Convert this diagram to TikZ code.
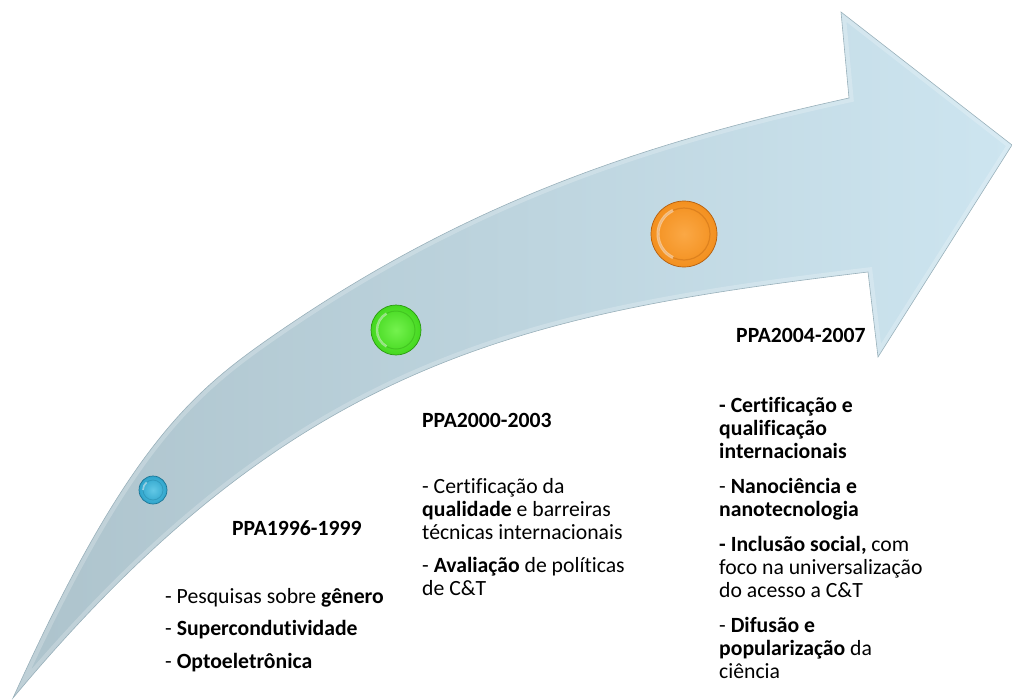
\documentclass[tikz,border=0pt]{standalone}
\usepackage{fontspec}
\setmainfont{Carlito}[Ligatures={TeX,NoCommon}]
\definecolor{arrL}{HTML}{ADC3CC}
\definecolor{arrM}{HTML}{BED5DF}
\definecolor{arrR}{HTML}{CDE5F0}
\definecolor{arrEdge}{HTML}{9AB1BB}
\definecolor{blueL}{HTML}{62C8E6}
\definecolor{blueB}{HTML}{2EA4CB}
\definecolor{blueD}{HTML}{1B7595}
\definecolor{greenL}{HTML}{74F24E}
\definecolor{greenB}{HTML}{44D81F}
\definecolor{greenD}{HTML}{2A9A10}
\definecolor{orangeL}{HTML}{FBA845}
\definecolor{orangeB}{HTML}{F3901F}
\definecolor{orangeD}{HTML}{B45E0E}
\tikzset{
  ppahead/.style={anchor=base west, inner sep=0pt, font=\bfseries\fontsize{21.7}{23}\selectfont},
  ppabody/.style={anchor=north west, inner sep=0pt, align=left, font=\fontsize{21.7}{23}\selectfont},
  orb/.style n args={3}{circle, inner sep=0pt, shading=radial, inner color=#1, outer color=#2, draw=#3, line width=0.7pt},
}
\newcommand\ppaarrowpath{(13,698) .. controls (123,455) and (187,396) .. (267,340) .. controls (467,200) and (649,142) .. (849,98) -- (841,12) -- (1012,145) -- (878,357) -- (868,272) .. controls (518,314) and (293,362) .. (13,698) -- cycle}
\begin{document}
\begin{tikzpicture}[x=1pt,y=-1pt]
\useasboundingbox (0,0) rectangle (1012,699);
% arrow
\shade[left color=arrL, middle color=arrM, right color=arrR] \ppaarrowpath;
\begin{scope}
  \clip \ppaarrowpath;
  \draw[white, opacity=0.22, line width=9pt, line join=miter] \ppaarrowpath;
\end{scope}
\draw[arrEdge, line width=0.6pt, line join=miter] \ppaarrowpath;
% orbs
\node[orb={blueL}{blueB}{blueD}, minimum size=28pt] (b1) at (153,490) {};
\draw[blueD, opacity=0.35, line width=0.8pt] (b1.center) circle[radius=10];
\draw[white, opacity=0.5, line width=1.6pt] ([shift={(-10,0)}]b1.center) arc[start angle=180, end angle=230, radius=10];
\node[orb={greenL}{greenB}{greenD}, minimum size=50pt] (b2) at (396,330) {};
\draw[greenD, opacity=0.35, line width=1pt] (b2.center) circle[radius=19];
\draw[white, opacity=0.45, line width=2.4pt] ([shift={(-19,0)}]b2.center) arc[start angle=180, end angle=240, radius=19];
\draw[white, opacity=0.45, line width=2.4pt] ([shift={(-19,0)}]b2.center) arc[start angle=180, end angle=120, radius=19];
\node[orb={orangeL}{orangeB}{orangeD}, minimum size=66pt] (b3) at (684,234) {};
\draw[orangeD, opacity=0.35, line width=1.2pt] (b3.center) circle[radius=26];
\draw[white, opacity=0.45, line width=3pt] ([shift={(-26,0)}]b3.center) arc[start angle=180, end angle=245, radius=26];
\draw[white, opacity=0.45, line width=3pt] ([shift={(-26,0)}]b3.center) arc[start angle=180, end angle=115, radius=26];
% texts
\node[ppahead] (h1) at (232,535) {PPA1996-1999};
\node[ppabody] (t1) at (165,587) {\strut- Pesquisas sobre \textbf{gênero}\\[9.5pt]- \textbf{Supercondutividade}\\[9.5pt]- \textbf{Optoeletrônica}};
\node[ppahead] (h2) at (422,427) {PPA2000-2003};
\node[ppabody] (t2) at (422,477) {\strut- Certificação da\\\textbf{qualidade} e barreiras\\técnicas internacionais\\[10pt]- \textbf{Avaliação} de políticas\\de C\&T};
\node[ppahead] (h3) at (736,342) {PPA2004-2007};
\node[ppabody] (t3) at (719,396) {\strut\textbf{- Certificação e}\\\textbf{qualificação}\\\textbf{internacionais}\\[12pt]- \textbf{Nanociência e}\\\textbf{nanotecnologia}\\[12pt]\textbf{- Inclusão social,} com\\foco na universalização\\do acesso a C\&T\\[12pt]- \textbf{Difusão e}\\\textbf{popularização} da\\ciência};
\end{tikzpicture}
\end{document}
